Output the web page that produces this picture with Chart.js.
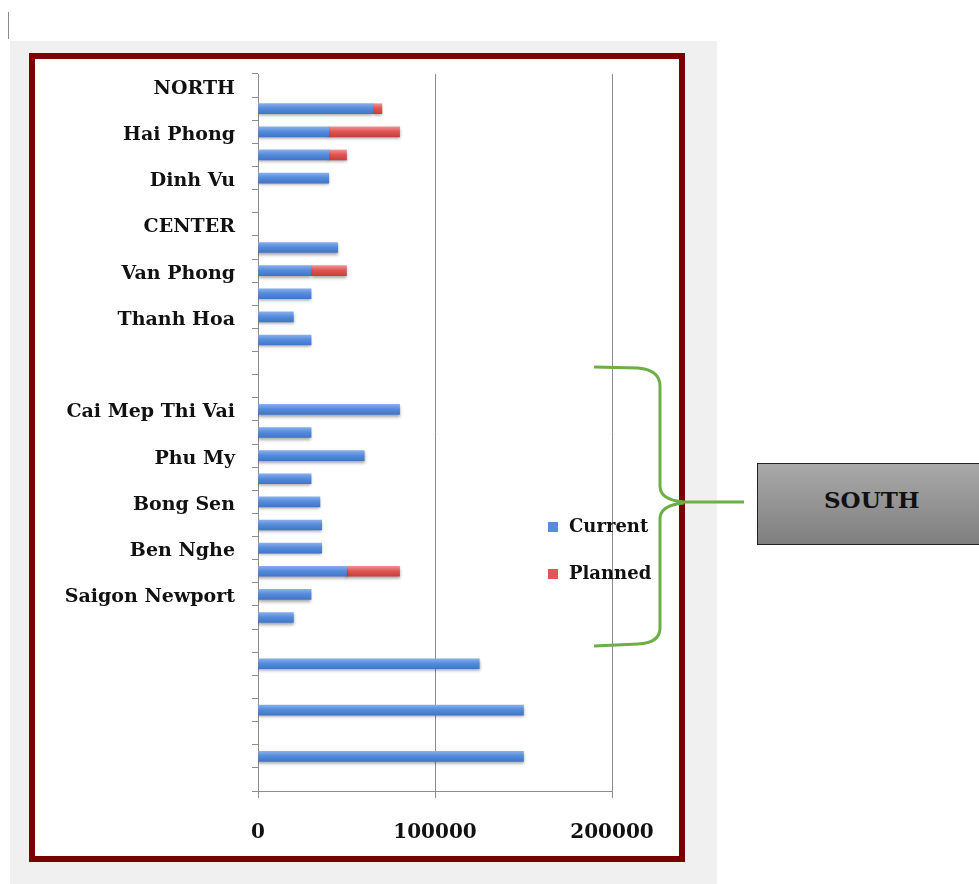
<!DOCTYPE html>
<html>
<head>
<meta charset="utf-8">
<script src="https://cdn.jsdelivr.net/npm/chart.js@4/dist/chart.umd.min.js"></script>
<style>
  body { margin: 0; background: #fff; width: 979px; height: 884px; position: relative; overflow: hidden; }
  .caret { position: absolute; left: 8px; top: 12px; width: 1px; height: 27px; background: #8a8a8a; }
  .panel { position: absolute; left: 10px; top: 41px; width: 707px; height: 843px; background: #f0f0f0; }
  .frame { position: absolute; left: 29px; top: 53px; width: 656px; height: 809px; box-sizing: border-box;
           border: 6px solid #7b0000; background: #fff; }
  .chartBox { position: absolute; left: 35px; top: 59px; width: 644px; height: 797px; }
  .south { position: absolute; left: 757px; top: 463px; width: 240px; height: 82px; box-sizing: border-box;
           border: 1.5px solid #222; background: linear-gradient(#a9a9a9, #7f7f7f);
           font: bold 23px "DejaVu Serif"; color: #111; padding-left: 66px; line-height: 72px; }
  svg { position: absolute; left: 0; top: 0; }
</style>
</head>
<body>
<div class="caret"></div>
<div class="panel"></div>
<div class="frame"></div>
<div class="chartBox"><canvas id="chart"></canvas></div>
<svg width="979" height="884">
  <path d="M594 367 L638 368 Q660 370 660 386 L660 486 Q660 500 684 502 L744 502 M684 503 Q660 505 660 519 L660 628 Q660 643 638 644 L594 646"
        fill="none" stroke="#6dae45" stroke-width="3"/>
</svg>
<div class="south">SOUTH</div>

<script>
const ports = ['NORTH', '', 'Hai Phong', '', 'Dinh Vu', '', 'CENTER', '', 'Van Phong', '', 'Thanh Hoa', '',
  '', '', 'Cai Mep Thi Vai', '', 'Phu My', '', 'Bong Sen', '', 'Ben Nghe', '', 'Saigon Newport', '',
  '', '', '', '', '', '', ''];
const current = [null, 65000, 40000, 40000, 40000, null, null, 45000, 30000, 30000, 20000, 30000,
  null, null, 80000, 30000, 60000, 30000, 35000, 36000, 36000, 50000, 30000, 20000,
  null, 125000, null, 150000, null, 150000, null];
const planned = [null, 5000, 40000, 10000, null, null, null, null, 20000, null, null, null,
  null, null, null, null, null, null, null, null, null, 30000, null, null,
  null, null, null, null, null, null, null];
const xTicks = [0, 100000, 200000];

const blueStops = ['#86adec', '#568cdc', '#4275c8'];
const redStops = ['#f09090', '#e05656', '#c63f3f'];
const serif = 'DejaVu Serif';

const barFill = (stops) => (ctx) => {
  const chart = ctx.chart;
  if (!chart.chartArea || !chart.scales.y) return stops[1];
  const y = chart.scales.y.getPixelForValue(ctx.dataIndex);
  const g = chart.ctx.createLinearGradient(0, y - 5, 0, y + 5);
  g.addColorStop(0, stops[0]);
  g.addColorStop(0.45, stops[1]);
  g.addColorStop(1, stops[2]);
  return g;
};

// soft drop shadow under the bars, like the office chart
const barShadow = {
  id: 'barShadow',
  beforeDatasetsDraw(chart) {
    const c = chart.ctx;
    c.save();
    c.shadowColor = 'rgba(0,0,0,0.35)';
    c.shadowBlur = 3;
    c.shadowOffsetY = 2;
  },
  afterDatasetsDraw(chart) {
    chart.ctx.restore();
  }
};

// legend drawn inside the plot, to the right
const innerLegend = {
  id: 'innerLegend',
  afterDraw(chart) {
    const c = chart.ctx;
    c.save();
    c.font = 'bold 18px "' + serif + '"';
    c.textBaseline = 'middle';
    chart.data.datasets.forEach((ds, i) => {
      const y = 468 + i * 47;
      c.fillStyle = ds.legendColor;
      c.fillRect(513, y - 5, 10, 10);
      c.fillStyle = '#111';
      c.fillText(ds.label, 534, y);
    });
    c.restore();
  }
};

new Chart(document.getElementById('chart'), {
  type: 'bar',
  data: {
    labels: ports,
    datasets: [
      { label: 'Current', data: current, backgroundColor: barFill(blueStops), legendColor: '#568cdc', barThickness: 10 },
      { label: 'Planned', data: planned, backgroundColor: barFill(redStops), legendColor: '#e05656', barThickness: 10 }
    ]
  },
  options: {
    indexAxis: 'y',
    responsive: true,
    maintainAspectRatio: false,
    animation: false,
    layout: { padding: { top: 15, right: 67, left: 0, bottom: 0 } },
    plugins: { legend: { display: false }, tooltip: { enabled: false } },
    scales: {
      x: {
        stacked: true,
        min: 0,
        max: 200000,
        afterBuildTicks: (scale) => { scale.ticks = xTicks.map(v => ({ value: v })); },
        afterFit: (scale) => { scale.height = 65; },
        grid: { color: '#8c8c8c', tickLength: 7 },
        border: { color: '#8c8c8c' },
        ticks: {
          color: '#111', padding: 23, maxRotation: 0,
          callback: (v) => String(v),
          font: { family: serif, weight: 'bold', size: 20 }
        }
      },
      y: {
        stacked: true,
        afterFit: (scale) => { scale.width = 223; scale.paddingTop = 0; scale.paddingBottom = 0; },
        grid: { drawOnChartArea: false, color: '#8c8c8c', tickLength: 6 },
        border: { color: '#8c8c8c' },
        ticks: { autoSkip: false, color: '#111', padding: 17, labelOffset: 3, font: { family: serif, weight: 'bold', size: 19 } }
      }
    }
  },
  plugins: [barShadow, innerLegend]
});
</script>
</body>
</html>
